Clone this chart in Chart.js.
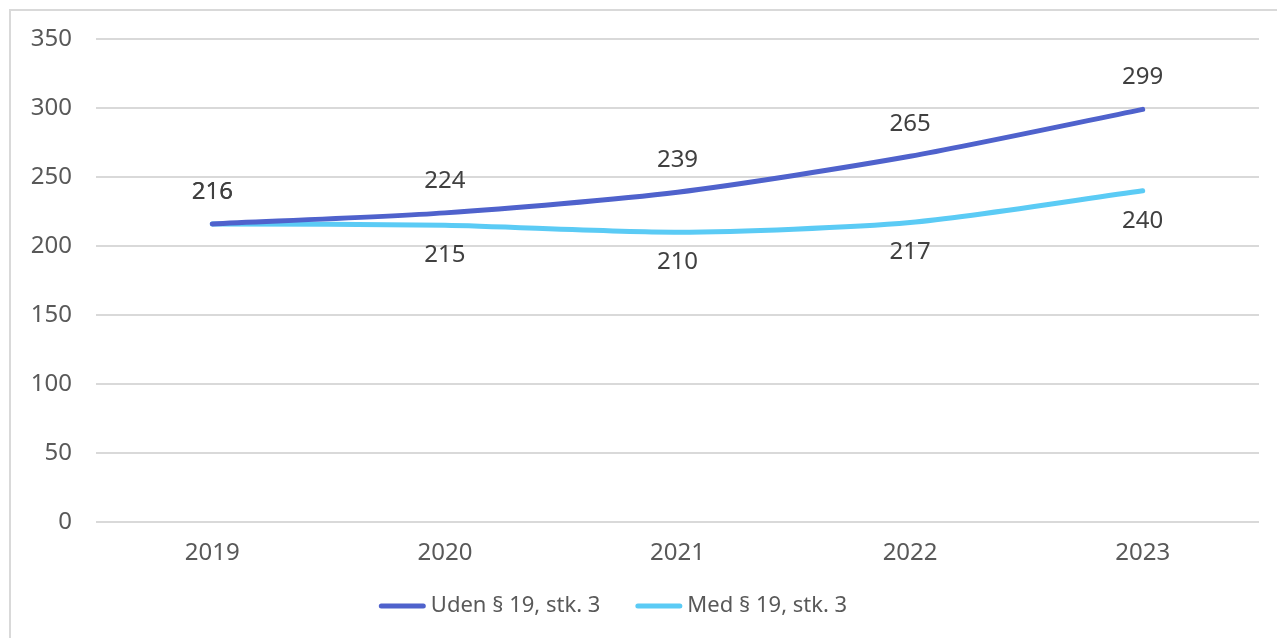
<!DOCTYPE html>
<html>
<head>
<meta charset="utf-8">
<script src="https://cdn.jsdelivr.net/npm/chart.js@4/dist/chart.umd.min.js"></script>
<style>
html,body{margin:0;padding:0;background:#fff;}
#wrap{width:1277px;height:638px;position:relative;}
</style>
</head>
<body>
<div id="wrap"><canvas id="c" width="1277" height="638"></canvas></div>
<script>
const categories = ['2019','2020','2021','2022','2023'];
const udenValues = [216, 224, 239, 265, 299];
const medValues = [216, 215, 210, 217, 240];
const seriesNames = ['Uden § 19, stk. 3', 'Med § 19, stk. 3'];
const yTicks = [0, 50, 100, 150, 200, 250, 300, 350];

const FONT = '"Noto Sans", sans-serif';

const frame = {
  id: 'frame',
  beforeDraw(chart) {
    const ctx = chart.ctx;
    ctx.save();
    ctx.fillStyle = '#fff';
    ctx.fillRect(0, 0, chart.width, chart.height);
    ctx.strokeStyle = '#d9d9d9';
    ctx.lineWidth = 2;
    ctx.strokeRect(10, 10, chart.width + 20, chart.height + 20);
    ctx.restore();
  }
};

const labels = {
  id: 'valueLabels',
  afterDatasetsDraw(chart) {
    const ctx = chart.ctx;
    ctx.save();
    ctx.font = '24px ' + FONT;
    ctx.fillStyle = '#404040';
    ctx.textAlign = 'center';
    ctx.textBaseline = 'middle';
    chart.data.datasets.forEach((ds, di) => {
      const meta = chart.getDatasetMeta(di);
      meta.data.forEach((pt, i) => {
        const above = di === 0 || i === 0;
        const y = above ? pt.y - 32 : pt.y + 30;
        ctx.fillText(String(ds.data[i]), pt.x, y);
      });
    });
    ctx.restore();
  }
};

const legendPlugin = {
  id: 'customLegend',
  afterDraw(chart) {
    const ctx = chart.ctx;
    ctx.save();
    ctx.font = '22px ' + FONT;
    ctx.textBaseline = 'middle';
    ctx.textAlign = 'left';
    const lineLen = 47, gap = 5, itemGap = 35, y = 606;
    const ds = chart.data.datasets;
    const widths = ds.map(d => lineLen + gap + ctx.measureText(d.label).width);
    const total = widths.reduce((a, b) => a + b, 0) + itemGap * (ds.length - 1);
    let x = 613 - total / 2;
    ds.forEach((d, i) => {
      ctx.strokeStyle = d.borderColor;
      ctx.lineWidth = 5;
      ctx.lineCap = 'round';
      ctx.beginPath();
      ctx.moveTo(x + 2.5, y);
      ctx.lineTo(x + lineLen - 2.5, y);
      ctx.stroke();
      ctx.fillStyle = '#595959';
      ctx.fillText(d.label, x + lineLen + gap, y);
      x += widths[i] + itemGap;
    });
    ctx.restore();
  }
};

new Chart(document.getElementById('c'), {
  type: 'line',
  data: {
    labels: categories,
    datasets: [
      { label: seriesNames[0], data: udenValues, borderColor: '#4F62CC', backgroundColor: '#4F62CC',
        borderWidth: 5, pointRadius: 0, tension: 0.25, borderCapStyle: 'round' },
      { label: seriesNames[1], data: medValues, borderColor: '#5BCBF5', backgroundColor: '#5BCBF5',
        borderWidth: 5, pointRadius: 0, tension: 0.25, borderCapStyle: 'round' }
    ]
  },
  options: {
    responsive: false,
    animation: false,
    devicePixelRatio: 1,
    layout: { padding: { left: 20, right: 18, top: 39, bottom: 0 } },
    plugins: {
      legend: { display: false },
      tooltip: { enabled: false }
    },
    scales: {
      x: {
        offset: true,
        afterFit(scale) { scale.height = 116; },
        grid: { display: false, drawTicks: false },
        border: { display: false },
        ticks: { font: { family: FONT, size: 24 }, color: '#595959', padding: 17 }
      },
      y: {
        min: 0, max: 350,
        afterBuildTicks(scale) { scale.ticks = yTicks.map(v => ({ value: v })); },
        afterFit(scale) { scale.width = 76; },
        grid: { color: '#d9d9d9', lineWidth: 2, drawTicks: false },
        border: { display: false },
        ticks: { font: { family: FONT, size: 24 }, color: '#595959', padding: 24 }
      }
    }
  },
  plugins: [frame, labels, legendPlugin]
});
</script>
</body>
</html>
